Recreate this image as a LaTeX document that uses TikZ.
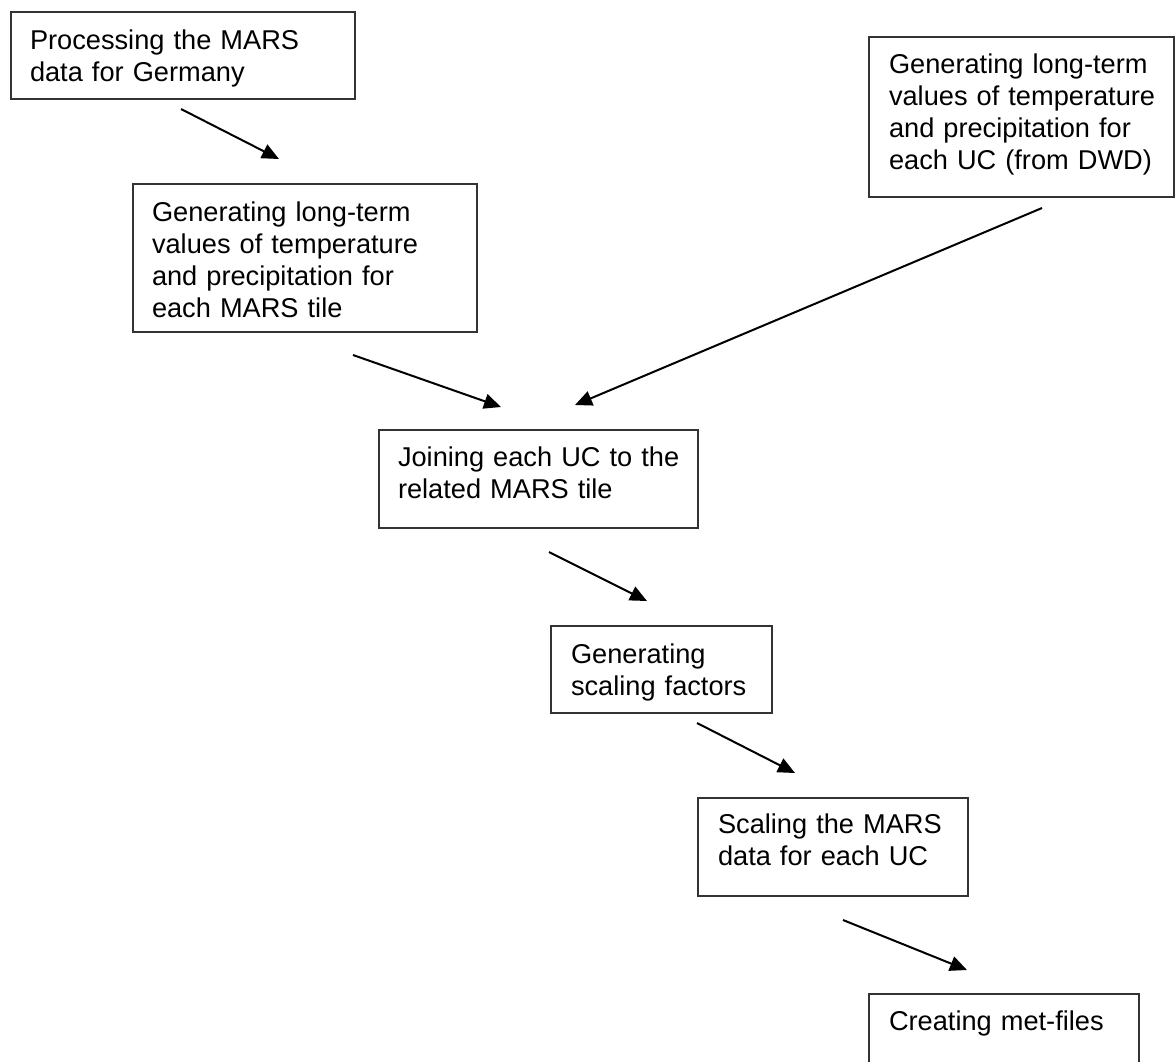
\documentclass[tikz,border=0pt]{standalone}
\usepackage{fontspec}
\setmainfont{Liberation Sans}
\usetikzlibrary{arrows.meta}
\definecolor{boxline}{HTML}{333333}
\begin{document}
\begin{tikzpicture}[x=1pt,y=-1pt,
  box/.style={draw=boxline, line width=1.8pt, rectangle, inner sep=0pt, outer sep=0pt, anchor=north west},
  txt/.style={anchor=base west, inner sep=0pt, outer sep=0pt, text width=#1, align=left, font=\fontsize{27.2}{32}\selectfont},
  txt/.default=320pt,
  flow/.style={line width=2pt, -{Triangle[length=17pt,width=15pt]}}]
\useasboundingbox (0,0) rectangle (1175,1061);
\clip (0,0) rectangle (1175,1061);
% boxes
\node[box, minimum width=344pt, minimum height=87pt] (b1) at (11,12) {};
\node[box, minimum width=344pt, minimum height=148pt] (b2) at (133,184) {};
\node[box, minimum width=305pt, minimum height=160pt] (b3) at (869,37) {};
\node[box, minimum width=319pt, minimum height=98pt] (b4) at (379,430) {};
\node[box, minimum width=221pt, minimum height=87pt] (b5) at (551,626) {};
\node[box, minimum width=270pt, minimum height=98pt] (b6) at (698,798) {};
\node[box, minimum width=270pt, minimum height=90pt] (b7) at (869,994) {};
% texts
\node[txt] (t1) at (30,49) {Processing the MARS\\data for Germany};
\node[txt] (t2) at (152,221) {Generating long-term\\values of temperature\\and precipitation for\\each MARS tile};
\node[txt=280pt] (t3) at (889,73) {Generating long-term\\values of temperature\\and precipitation for\\each UC (from DWD)};
\node[txt] (t4) at (398,466) {Joining each UC to the\\related MARS tile};
\node[txt=200pt] (t5) at (571,663) {Generating\\scaling factors};
\node[txt=250pt] (t6) at (718,833) {Scaling the MARS\\data for each UC};
\node[txt=250pt] (t7) at (889,1030) {Creating met-files};
% arrow end points
\coordinate (a1s) at (181,109); \coordinate (a1e) at (279,159);
\coordinate (a2s) at (353,355); \coordinate (a2e) at (501,407);
\coordinate (a3s) at (1042,208); \coordinate (a3e) at (575,405);
\coordinate (a4s) at (549,552); \coordinate (a4e) at (647,601);
\coordinate (a5s) at (697,723); \coordinate (a5e) at (795,773);
\coordinate (a6s) at (843,920); \coordinate (a6e) at (967,970);
\draw[flow] (a1s) -- (a1e);
\draw[flow] (a2s) -- (a2e);
\draw[flow] (a3s) -- (a3e);
\draw[flow] (a4s) -- (a4e);
\draw[flow] (a5s) -- (a5e);
\draw[flow] (a6s) -- (a6e);
\end{tikzpicture}
\end{document}
